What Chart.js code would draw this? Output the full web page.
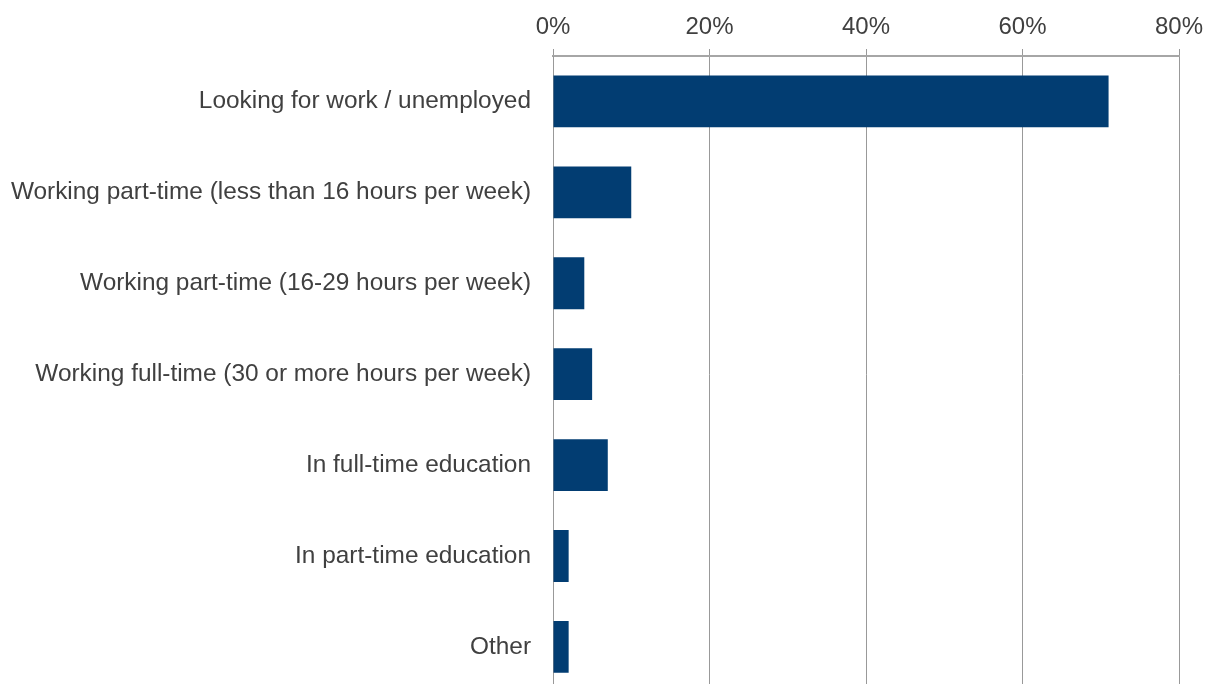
<!DOCTYPE html>
<html>
<head>
<meta charset="utf-8">
<script src="https://cdn.jsdelivr.net/npm/chart.js@4/dist/chart.umd.min.js"></script>
<style>
  html, body { margin: 0; padding: 0; background: #fff; overflow: hidden; }
  canvas { display: block; }
</style>
</head>
<body>
<canvas id="chartCanvas" width="1207" height="729"></canvas>
<script>
const categories = [
  "Looking for work / unemployed",
  "Working part-time (less than 16 hours per week)",
  "Working part-time (16-29 hours per week)",
  "Working full-time (30 or more hours per week)",
  "In full-time education",
  "In part-time education",
  "Other"
];
const shares = [71, 10, 4, 5, 7, 2, 2];
const xTicks = [0, 20, 40, 60, 80];

const textColor = "#404040";
const fontFamily = "Liberation Sans, Arial, sans-serif";

const ctx = document.getElementById("chartCanvas").getContext("2d");
new Chart(ctx, {
  type: "bar",
  data: {
    labels: categories,
    datasets: [{
      data: shares,
      backgroundColor: "#023d72",
      categoryPercentage: 1,
      barPercentage: 0.57
    }]
  },
  options: {
    indexAxis: "y",
    responsive: false,
    animation: false,
    layout: { padding: { right: 28, top: 0, bottom: 0, left: 0 } },
    plugins: { legend: { display: false }, tooltip: { enabled: false } },
    scales: {
      x: {
        position: "top",
        min: 0,
        max: 80,
        afterBuildTicks: s => { s.ticks = xTicks.map(v => ({ value: v })); },
        afterFit: s => { s.height = 56; s.paddingRight = 0; s.paddingLeft = 0; },
        ticks: {
          color: textColor,
          font: { family: fontFamily, size: 24 },
          padding: 7,
          callback: v => v + "%"
        },
        grid: { color: "#999999", lineWidth: 1, tickLength: 7, drawTicks: true },
        border: { display: true, color: "#a6a6a6", width: 2 }
      },
      y: {
        afterFit: s => { s.width = 553; },
        ticks: {
          color: textColor,
          font: { family: fontFamily, size: 24.4 },
          padding: 22
        },
        grid: { display: false, drawTicks: false },
        border: { display: true, color: "#999999", width: 1 }
      }
    }
  }
});
</script>
</body>
</html>
